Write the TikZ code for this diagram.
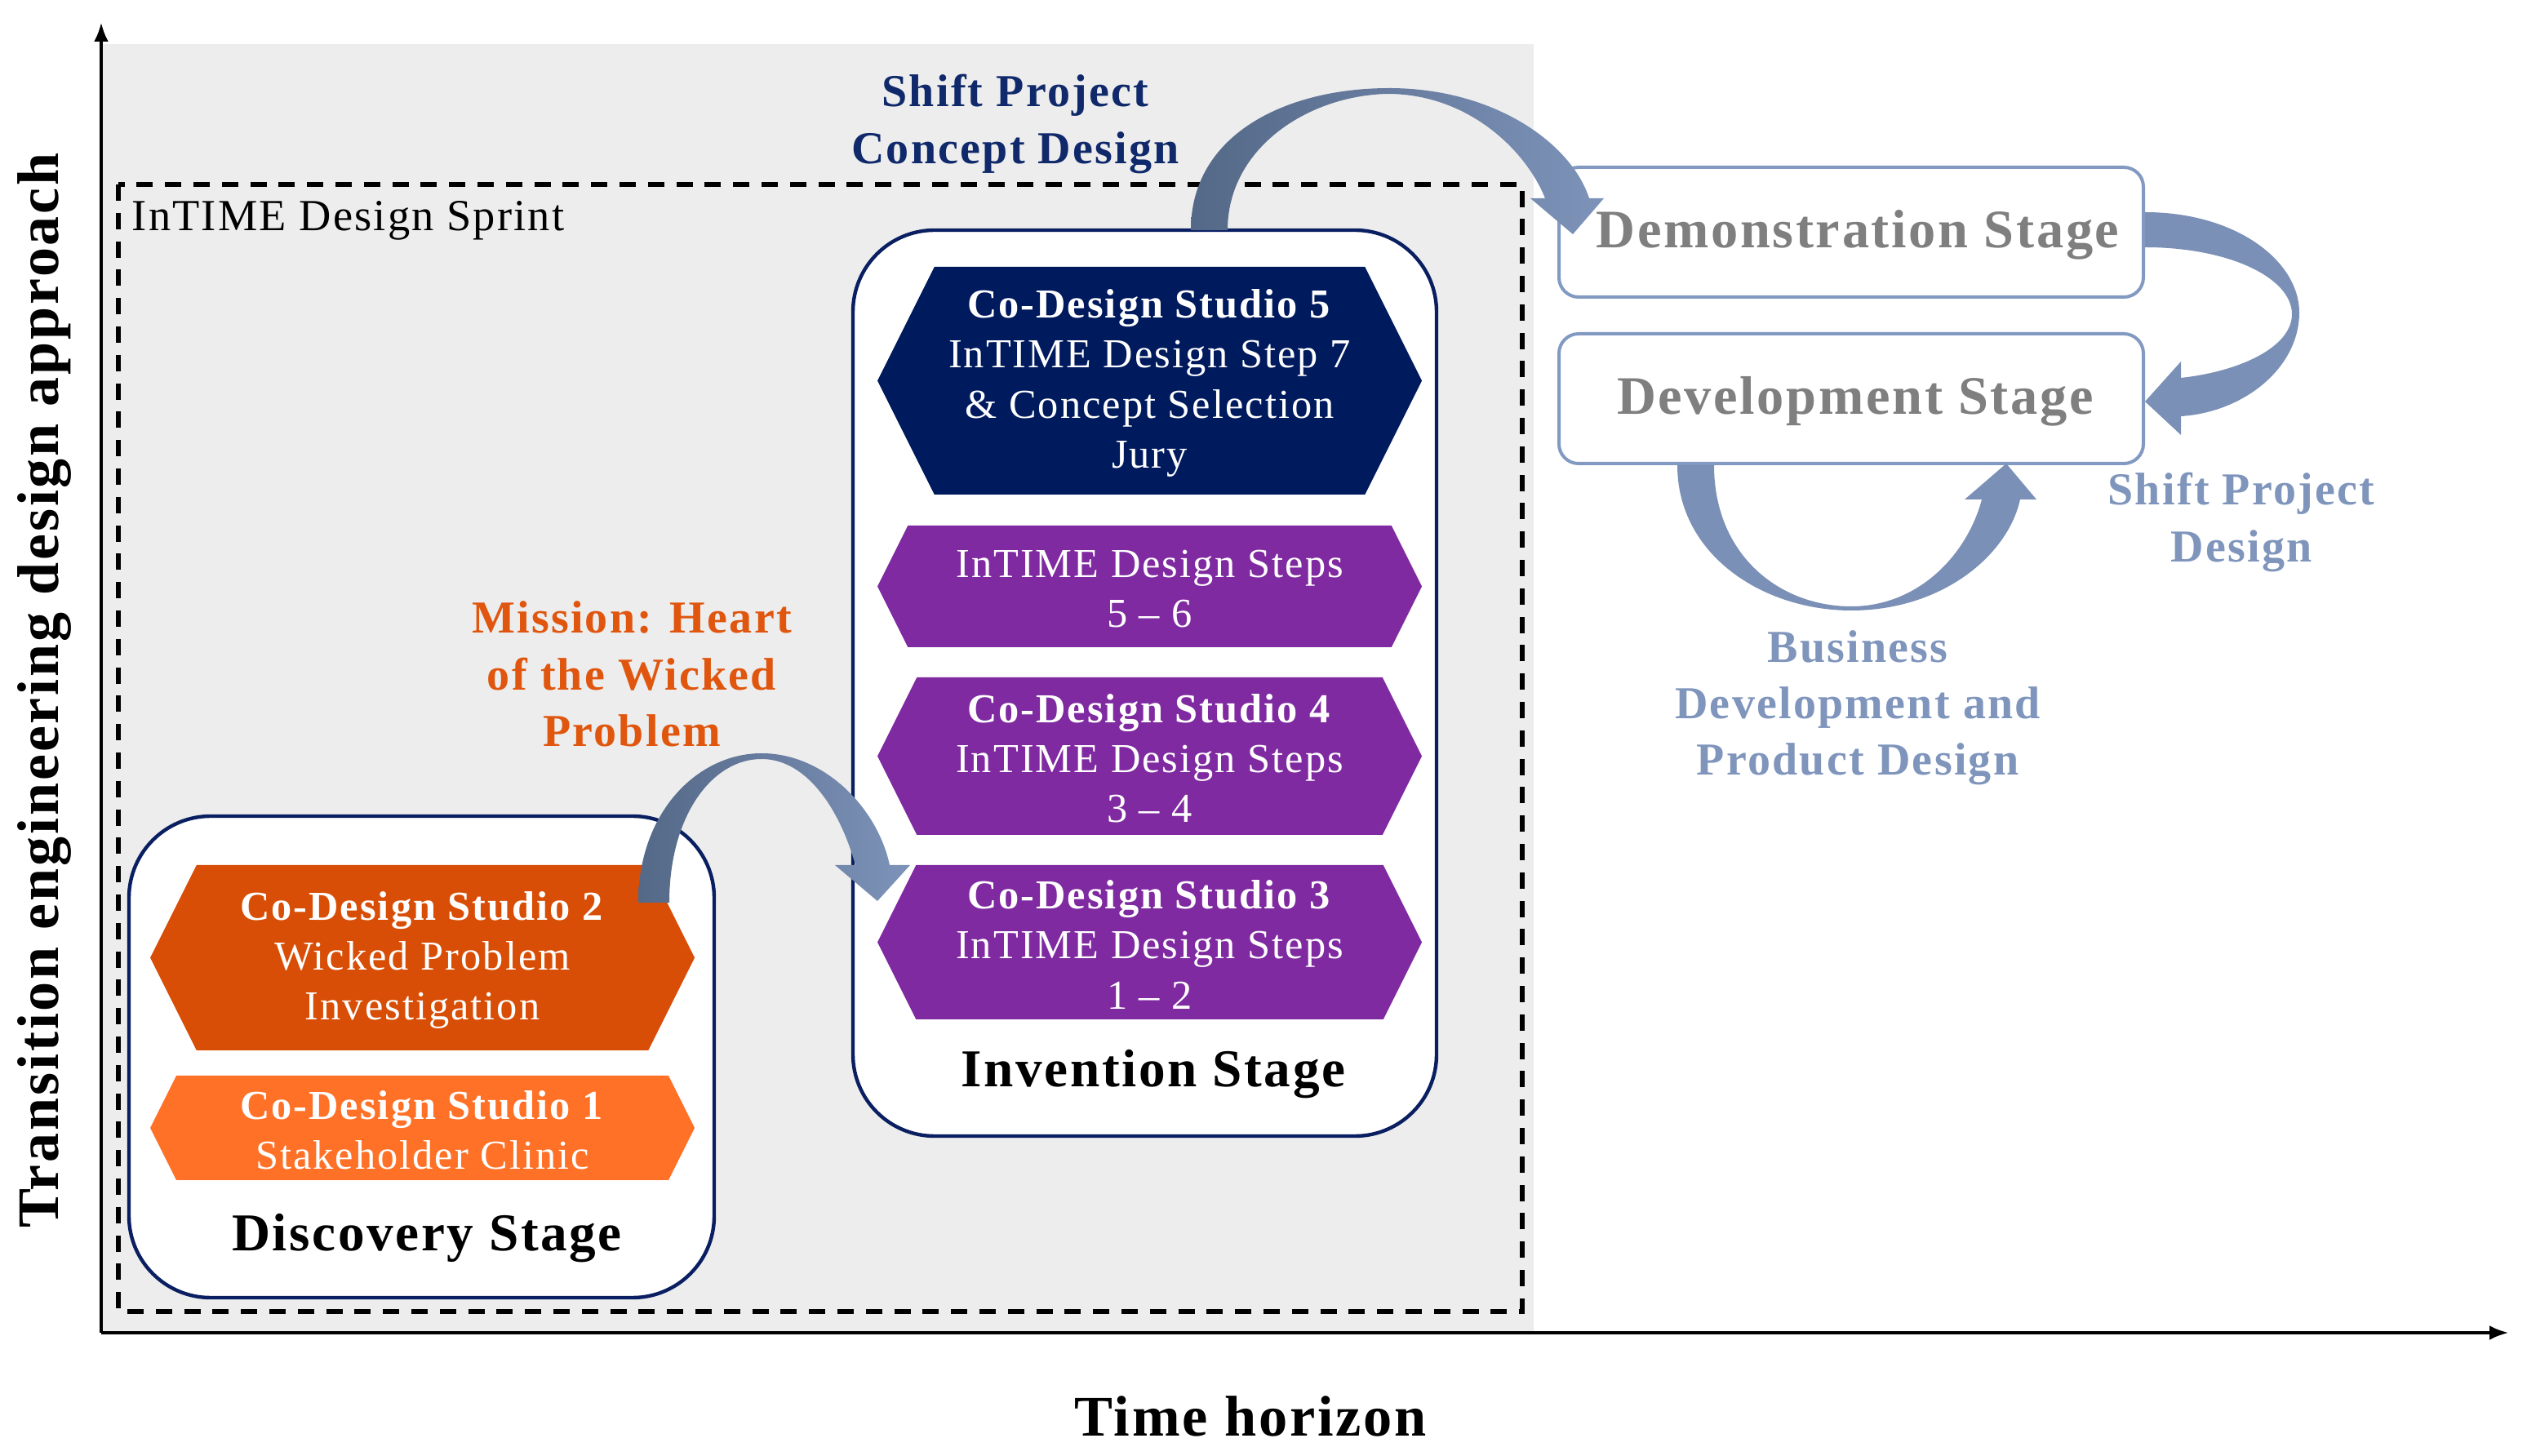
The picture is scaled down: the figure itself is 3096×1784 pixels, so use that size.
\documentclass[tikz,border=0pt]{standalone}
\usepackage{fontspec}
\setmainfont{Liberation Serif}[LetterSpace=4]
\usetikzlibrary{arrows.meta}
\definecolor{bggray}{HTML}{EDEDED}
\definecolor{navybox}{HTML}{0A1F62}
\definecolor{hexnavy}{HTML}{001A5E}
\definecolor{hexpurple}{HTML}{7F2AA0}
\definecolor{hexorangedark}{HTML}{D84E06}
\definecolor{hexorangelight}{HTML}{FF7127}
\definecolor{conceptnavy}{HTML}{10296B}
\definecolor{missionorange}{HTML}{E0560E}
\definecolor{steeltext}{HTML}{7F95BC}
\definecolor{steelborder}{HTML}{8299C2}
\definecolor{arrowdark}{HTML}{546887}
\definecolor{arrowlight}{HTML}{7D93B9}
\definecolor{arrowflat}{HTML}{7B90B6}
\definecolor{graytext}{HTML}{7F7F7F}
\newcommand{\hexbox}[7]{%
  \fill[#6] ({#2},{(#4+#5)/2}) -- ({#2+0.25*(#5-#4)},#4) -- ({#3-0.25*(#5-#4)},#4)
    -- ({#3},{(#4+#5)/2}) -- ({#3-0.25*(#5-#4)},#5) -- ({#2+0.25*(#5-#4)},#5) -- cycle;
  \node[hextxt] (#1) at ({(#2+#3)/2},{(#4+#5)/2+3}) {#7};
}
\begin{document}
\begin{tikzpicture}[x=0.25pt,y=-0.25pt,
  lbl/.style={align=center, inner sep=0pt, font=\fontsize{14}{17.3}\selectfont\bfseries},
  hextxt/.style={align=center, inner sep=0pt, text=white, font=\fontsize{12.6}{15.3}\selectfont},
  stagetitle/.style={inner sep=0pt, font=\fontsize{16.3}{19}\selectfont\bfseries},
  greytitle/.style={inner sep=0pt, text=graytext, font=\fontsize{16.6}{19}\selectfont\bfseries},
  stageframe/.style={draw=navybox, fill=white, line width=1.1pt, rounded corners=25pt},
  lightframe/.style={draw=steelborder, fill=white, line width=1pt, rounded corners=6pt},
  axisline/.style={line width=1.2pt, -{Latex[length=6pt,width=4.5pt]}}]
\useasboundingbox (0,0) rectangle (3096,1784);
% background and sprint frame
\fill[bggray] (124,54) rectangle (1879,1633);
\draw[line width=1.3pt, dash pattern=on 5pt off 3.7pt] (145,226) rectangle (1865,1607);
\node[anchor=west, inner sep=0pt, font=\fontsize{13.6}{15}\selectfont] (sprint) at (161,270) {InTIME Design Sprint};
% axes
\coordinate (O) at (124,1633);
\coordinate (ytop) at (124,27);
\coordinate (xend) at (3074,1633);
\draw[axisline] (O) -- (ytop);
\draw[axisline] (O) -- (xend);
\node[rotate=90, inner sep=0pt, font=\fontsize{18}{20}\selectfont\bfseries] (ylab) at (54,846) {Transition engineering design approach};
\node[inner sep=0pt, font=\fontsize{17.6}{20}\selectfont\bfseries] (xlab) at (1532,1735) {Time horizon};
% stage frames
\draw[stageframe] (158,1000) rectangle (875,1590);
\draw[stageframe] (1045,282) rectangle (1760,1392);
\draw[lightframe] (1910,205) rectangle (2626,364);
\draw[lightframe] (1910,409) rectangle (2626,568);
\node[greytitle] (demo) at (2276,288) {Demonstration Stage};
\node[greytitle] (devel) at (2273,492) {Development Stage};
% hexagons
\hexbox{s5}{1075}{1742}{327}{606}{hexnavy}{\textbf{Co-Design Studio 5}\\InTIME Design Step 7\\\& Concept Selection\\Jury}
\hexbox{s56}{1075}{1742}{644}{793}{hexpurple}{InTIME Design Steps\\5 -- 6}
\hexbox{s4}{1075}{1742}{830}{1023}{hexpurple}{\textbf{Co-Design Studio 4}\\InTIME Design Steps\\3 -- 4}
\hexbox{s3}{1075}{1742}{1060}{1249}{hexpurple}{\textbf{Co-Design Studio 3}\\InTIME Design Steps\\1 -- 2}
\hexbox{s2}{184}{851}{1060}{1287}{hexorangedark}{\textbf{Co-Design Studio 2}\\Wicked Problem\\Investigation}
\hexbox{s1}{184}{851}{1318}{1446}{hexorangelight}{\textbf{Co-Design Studio 1}\\Stakeholder Clinic}
\node[stagetitle] (disc) at (523,1517) {Discovery Stage};
\node[stagetitle] (inv) at (1413,1316) {Invention Stage};
% curved arrows
\shade[left color=arrowdark, right color=arrowlight]
  (1459,282) .. controls (1459,165) and (1575,108) .. (1702,108)
  .. controls (1830,108) and (1925,175) .. (1947,243)
  -- (1965,243) -- (1927,287) -- (1875,243) -- (1893,243)
  .. controls (1870,185) and (1800,116) .. (1702,115)
  .. controls (1605,116) and (1504,180) .. (1504,282) -- cycle;
\shade[left color=arrowdark, right color=arrowlight]
  (782,1106) .. controls (782,995) and (855,923) .. (933,923)
  .. controls (1010,923) and (1075,990) .. (1090,1060)
  -- (1115,1060) -- (1075,1104) -- (1023,1060) -- (1048,1060)
  .. controls (1030,995) and (990,930) .. (933,930)
  .. controls (872,930) and (820,1000) .. (820,1106) -- cycle;
\fill[arrowflat]
  (2628,260) .. controls (2740,260) and (2817,320) .. (2817,383)
  .. controls (2817,450) and (2750,505) .. (2672,510)
  -- (2672,533) -- (2628,492) -- (2672,443) -- (2672,463)
  .. controls (2745,455) and (2808,425) .. (2808,385)
  .. controls (2808,340) and (2730,303) .. (2628,303) -- cycle;
\fill[arrowflat]
  (2055,570) .. controls (2055,680) and (2160,748) .. (2268,748)
  .. controls (2380,748) and (2460,680) .. (2475,612)
  -- (2495,612) -- (2458,568) -- (2407,612) -- (2428,612)
  .. controls (2410,680) and (2350,743) .. (2268,743)
  .. controls (2180,743) and (2100,680) .. (2100,570) -- cycle;
% labels
\node[lbl, text=conceptnavy] (concept) at (1244,152) {Shift Project\\Concept Design};
\node[lbl, text=missionorange] (mission) at (774,826) {Mission: Heart\\of the Wicked\\Problem};
\node[lbl, text=steeltext] (spd) at (2746,640) {Shift Project\\Design};
\node[lbl, text=steeltext] (bus) at (2276,867) {Business\\Development and\\Product Design};
\end{tikzpicture}
\end{document}
